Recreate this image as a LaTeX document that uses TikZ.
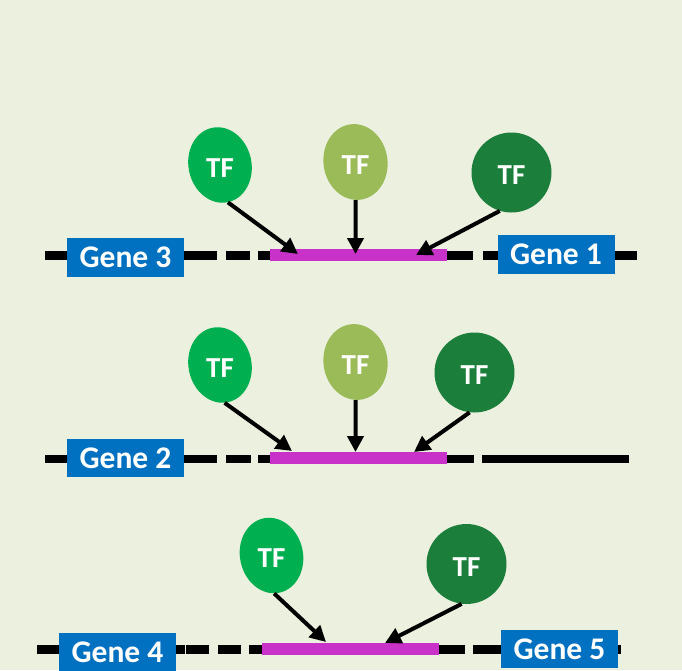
\documentclass[tikz,border=0pt]{standalone}
\usepackage{fontspec}
\setmainfont{Carlito}
\usetikzlibrary{shapes.geometric,arrows.meta}
\definecolor{bg}{HTML}{EBF0DF}
\definecolor{geneblue}{HTML}{0070C0}
\definecolor{sitemag}{HTML}{C832C8}
\definecolor{tfbright}{HTML}{00B050}
\definecolor{tfolive}{HTML}{9BBB59}
\definecolor{tfdark}{HTML}{1B7F3B}
\begin{document}
\begin{tikzpicture}[x=1pt,y=-1pt,
  dna/.style={line width=9pt,black},
  gene/.style={fill=geneblue,text=white,font=\bfseries\fontsize{31.5}{31.5}\selectfont,minimum width=117pt,minimum height=39pt,inner sep=0pt},
  site/.style={fill=sitemag,minimum width=177pt,minimum height=12pt,inner sep=0pt},
  tfA/.style={ellipse,fill=tfbright,minimum width=63pt,minimum height=76pt,inner sep=0pt,rotate=12},
  tfB/.style={ellipse,fill=tfolive,minimum width=64pt,minimum height=76pt,inner sep=0pt,rotate=8},
  tfC/.style={circle,fill=tfdark,minimum size=80pt,inner sep=0pt},
  tflabel/.style={text=white,font=\bfseries\fontsize{29}{29}\selectfont,inner sep=0pt},
  bind/.style={line width=4pt,-{Triangle[length=16pt,width=16pt]}}]
\fill[bg] (0,0) rectangle (682,670);
\useasboundingbox (0,0) rectangle (682,670);
% DNA backbones
\foreach \a/\b in {45/217,226/250,258/270,447/473,483/637}
  \draw[dna] (\a,255) -- (\b,255);
\foreach \a/\b in {45/217,226/251,258/270,447/474,482/629}
  \draw[dna,line width=8pt] (\a,458.5) -- (\b,458.5);
\foreach \a/\b in {37/185,186/209,218/241,249/262,439/465,473/621}
  \draw[dna] (\a,649.5) -- (\b,649.5);
% binding sites
\node[site] (site1) at (358.5,255) {};
\node[site] (site2) at (358.5,458) {};
\node[site] (site3) at (350.5,649) {};
% genes
\node[gene] (gene3) at (125.5,257.5) {Gene 3};
\node[gene] (gene1) at (556,254.5) {Gene 1};
\node[gene,minimum height=38pt] (gene2) at (125.5,458) {Gene 2};
\node[gene,minimum height=38pt] (gene4) at (117.5,652) {Gene 4};
\node[gene,minimum height=38pt] (gene5) at (559.5,649) {Gene 5};
% transcription factors
\node[tfA] (tf11) at (220,165) {};
\node[tfB] (tf12) at (355.5,162) {};
\node[tfC] (tf13) at (511.5,172.5) {};
\node[tfA] (tf21) at (220,365) {};
\node[tfB] (tf22) at (355.5,362) {};
\node[tfC] (tf23) at (474.5,372.5) {};
\node[tfA] (tf31) at (271.5,555.5) {};
\node[tfC] (tf33) at (466.5,564) {};
\foreach \n in {tf11,tf12,tf13,tf21,tf22,tf23,tf31,tf33}
  \node[tflabel] (\n l) at ([yshift=-3pt]\n.center) {TF};
% tips on binding sites
\coordinate (t11) at (298,254);
\coordinate (t12) at (355.5,254);
\coordinate (t13) at (416,255);
\coordinate (t21) at (292,451);
\coordinate (t22) at (355.5,452);
\coordinate (t23) at (414,452);
\coordinate (t31) at (326,642);
\coordinate (t33) at (385,643);
% binding arrows
\draw[bind] (tf11.south) -- (t11);
\draw[bind] (tf12.-98) -- (t12);
\draw[bind] (tf13.-107) -- (t13);
\draw[bind] (tf21.-95) -- (t21);
\draw[bind] (tf22.-98) -- (t22);
\draw[bind] (tf23.-97) -- (t23);
\draw[bind] (tf31.-98) -- (t31);
\draw[bind] (tf33.-97) -- (t33);
\end{tikzpicture}
\end{document}
